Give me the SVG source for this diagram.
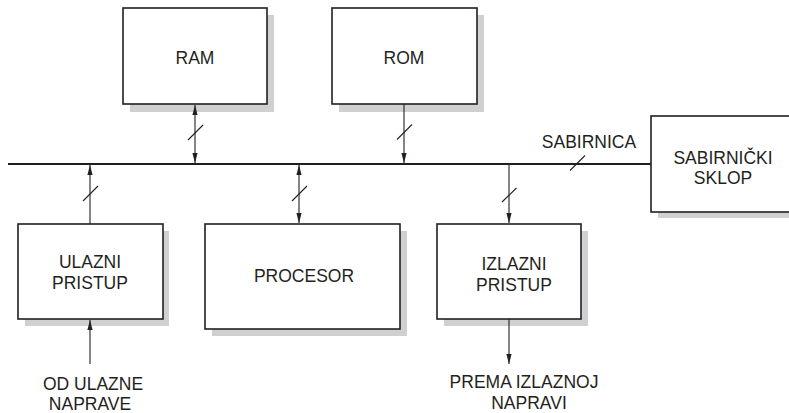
<svg xmlns="http://www.w3.org/2000/svg" width="789" height="413" viewBox="0 0 789 413">
<style>
.box{fill:#ffffff;stroke:#231f20;stroke-width:1.6}
.t{font-family:"Liberation Sans",Arial,sans-serif;font-size:17.5px;fill:#231f20;text-anchor:middle}
.ln{stroke:#231f20;stroke-width:1.1;fill:none}
.bus{stroke:#231f20;stroke-width:2.2;fill:none}
</style>
<defs>
<marker id="ah" viewBox="0 0 10 10" refX="10" refY="5" markerWidth="10" markerHeight="10" markerUnits="userSpaceOnUse" orient="auto-start-reverse">
<path d="M0,2.4 L10,5 L0,7.6 Z" fill="#231f20"/>
</marker>
</defs>
<rect width="789" height="413" fill="#ffffff"/>
<g id="ram">
<rect fill="#cfd0d2" x="130" y="15" width="144" height="97"/>
<rect class="box" x="123" y="8" width="144" height="96"/>
<text class="t" x="195" y="64">RAM</text>
</g>
<g id="rom">
<rect fill="#cfd0d2" x="339" y="15" width="145" height="97"/>
<rect class="box" x="332" y="8" width="145" height="96"/>
<text class="t" x="404" y="64">ROM</text>
</g>
<g id="sabirnicki">
<rect fill="#cfd0d2" x="658" y="123" width="140" height="95"/>
<rect class="box" x="651" y="116" width="145" height="96"/>
<text class="t" x="723" y="164">SABIRNIČKI</text>
<text class="t" x="723" y="184">SKLOP</text>
</g>
<g id="ulazni">
<rect fill="#cfd0d2" x="25" y="231" width="144" height="95"/>
<rect class="box" x="18" y="224" width="145" height="95"/>
<text class="t" x="90" y="268">ULAZNI</text>
<text class="t" x="90" y="289">PRISTUP</text>
</g>
<g id="procesor">
<rect fill="#cfd0d2" x="212" y="231" width="195" height="105"/>
<rect class="box" x="205" y="224" width="195" height="105"/>
<text class="t" x="304" y="282">PROCESOR</text>
</g>
<g id="izlazni">
<rect fill="#cfd0d2" x="444" y="231" width="144" height="95"/>
<rect class="box" x="437" y="224" width="144" height="95"/>
<text class="t" x="514" y="270">IZLAZNI</text>
<text class="t" x="514" y="291">PRISTUP</text>
</g>
<g id="labels">
<text class="t" x="589" y="148">SABIRNICA</text>
<text class="t" x="93" y="390">OD ULAZNE</text>
<text class="t" x="90" y="410">NAPRAVE</text>
<text class="t" x="524" y="388">PREMA IZLAZNOJ</text>
<text class="t" x="529" y="409">NAPRAVI</text>
</g>
<g id="connectors">
<line class="bus" x1="8" y1="164" x2="651" y2="164"/>
<line class="ln" x1="195" y1="105" x2="195" y2="163" marker-start="url(#ah)" marker-end="url(#ah)"/>
<line class="ln" x1="404" y1="104" x2="404" y2="163" marker-end="url(#ah)"/>
<line class="ln" x1="90" y1="224" x2="90" y2="165" marker-end="url(#ah)"/>
<line class="ln" x1="299" y1="165" x2="299" y2="223" marker-start="url(#ah)" marker-end="url(#ah)"/>
<line class="ln" x1="509" y1="165" x2="509" y2="223" marker-end="url(#ah)"/>
<line class="ln" x1="90" y1="364" x2="90" y2="320" marker-end="url(#ah)"/>
<line class="ln" x1="509" y1="319" x2="509" y2="364" marker-end="url(#ah)"/>
<line class="ln" x1="188" y1="140" x2="203" y2="125"/>
<line class="ln" x1="397" y1="139.5" x2="412" y2="124.5"/>
<line class="ln" x1="83" y1="201" x2="98" y2="186"/>
<line class="ln" x1="292" y1="201" x2="307" y2="186"/>
<line class="ln" x1="502" y1="202" x2="516.5" y2="188"/>
<line class="ln" x1="570" y1="170.5" x2="585" y2="155.5"/>
</g>
</svg>
